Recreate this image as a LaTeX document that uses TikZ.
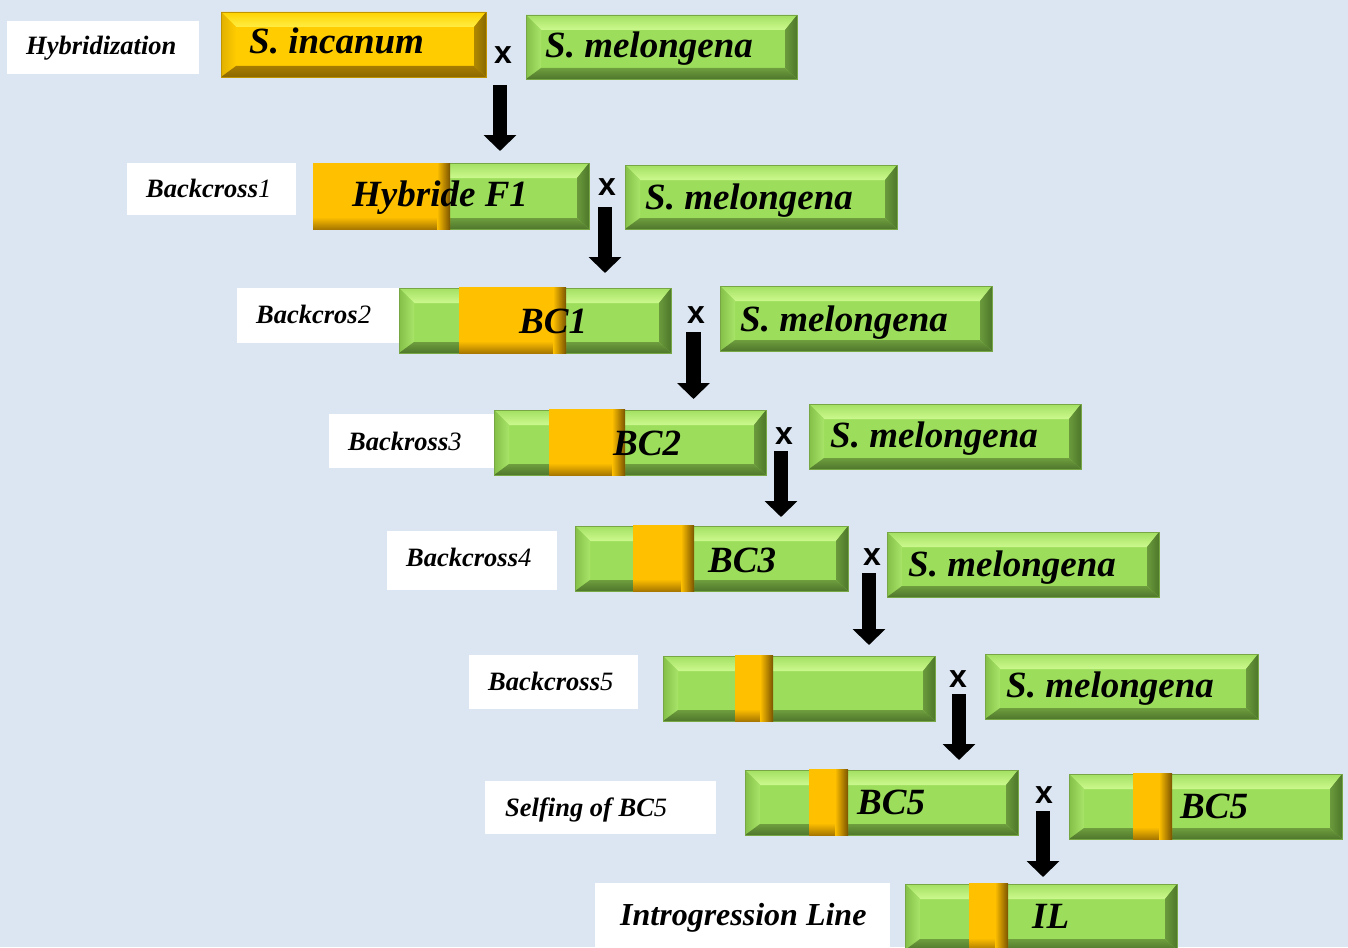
\documentclass[tikz,border=0pt]{standalone}
\usepackage{fontspec}
\setmainfont{Liberation Serif}
\newfontfamily\xfont{Liberation Sans}
\usetikzlibrary{arrows.meta,fit}
\definecolor{bg}{HTML}{DCE6F2}
% green scheme
\definecolor{gface}{HTML}{9CDE5C}
\definecolor{gt1}{HTML}{A2E062}
\definecolor{gt2}{HTML}{CDF98E}
\definecolor{gl1}{HTML}{84C048}
\definecolor{gl2}{HTML}{A8E468}
\definecolor{gr1}{HTML}{6A9A3C}
\definecolor{gr2}{HTML}{4E782B}
\definecolor{gb1}{HTML}{6E9E3E}
\definecolor{gb2}{HTML}{50772C}
\definecolor{gedge}{HTML}{76A744}
% gold scheme
\definecolor{yface}{HTML}{FFCC00}
\definecolor{yt1}{HTML}{FFD300}
\definecolor{yt2}{HTML}{FFEE44}
\definecolor{yl1}{HTML}{E0B000}
\definecolor{yl2}{HTML}{FFCC00}
\definecolor{yr1}{HTML}{B08800}
\definecolor{yr2}{HTML}{8A6A00}
\definecolor{yb1}{HTML}{A67C00}
\definecolor{yb2}{HTML}{8C6800}
\definecolor{yedge}{HTML}{C09400}
% orange segments
\definecolor{oface}{HTML}{FFC000}
\definecolor{odark}{HTML}{7A5400}
\definecolor{obot}{HTML}{A87800}

\newcommand\bevbar[6]{% name, scheme, x1,y1,x2,y2
  \fill[#2face] (#3,#4) rectangle (#5,#6);
  \shade[top color=#2t1, bottom color=#2t2] (#3,#4) -- (#5,#4) -- ({#5-12},{#4+15}) -- ({#3+15},{#4+15}) -- cycle;
  \shade[left color=#2l1, right color=#2l2] (#3,#4) -- ({#3+15},{#4+15}) -- ({#3+15},{#6-11}) -- (#3,#6) -- cycle;
  \shade[left color=#2r1, right color=#2r2] (#5,#4) -- (#5,#6) -- ({#5-12},{#6-11}) -- ({#5-12},{#4+15}) -- cycle;
  \shade[top color=#2b1, bottom color=#2b2] (#3,#6) -- (#5,#6) -- ({#5-12},{#6-11}) -- ({#3+15},{#6-11}) -- cycle;
  \draw[#2edge, line width=0.8pt] (#3,#4) rectangle (#5,#6);
  \coordinate (#1-nw) at (#3,#4);
  \coordinate (#1-se) at (#5,#6);
  \node[inner sep=0, fit=(#1-nw)(#1-se)] (#1) {};
}
\newcommand\oseg[4]{% x1,y1,x2,y2
  \fill[oface] (#1,#2) rectangle (#3,#4);
  \shade[top color=oface, bottom color=obot] (#1,{#4-12}) rectangle (#3,#4);
  \shade[left color=oface, middle color=oface!70!odark, right color=odark] ({#3-13},#2) rectangle (#3,#4);
}

\tikzset{
  bartxt/.style={font=\fontsize{37}{40}\selectfont\bfseries\itshape, inner sep=0, anchor=base west},
  labtxt/.style={font=\fontsize{26.5}{30}\selectfont\bfseries\itshape, inner sep=0, anchor=base west},
  labbox/.style={fill=white, inner sep=0, anchor=north west},
  crossx/.style={font=\xfont\fontsize{32}{34}\selectfont\bfseries, inner sep=0},
  downarr/.style={line width=14.5pt, -{Triangle[width=32pt,length=16pt]}},
}

\begin{document}
\begin{tikzpicture}[x=1pt,y=-1pt]
\clip (0,0) rectangle (1348,947);
\fill[bg] (0,0) rectangle (1348,947);

% ---------- row 0
\node[labbox, minimum width=192pt, minimum height=53pt] (lb0) at (7,21) {};
\node[labtxt] (lt0) at (26,55) {Hybridization};
\bevbar{inc}{y}{221}{12}{486}{77}
\node[bartxt] (tinc) at (249,54) {S. incanum};
\node[crossx] (x0) at (503,55) {x};
\bevbar{m0}{g}{526}{15}{797}{79}
\node[bartxt] (tm0) at (545,58) {S. melongena};
\coordinate (a0s) at (500,85);
\coordinate (a0e) at (500,151);
\draw[downarr] (a0s) -- (a0e);

% ---------- row 1
\node[labbox, minimum width=169pt, minimum height=52pt] (lb1) at (127,163) {};
\node[labtxt] (lt1) at (146,197) {Backcross{\mdseries 1}};
\bevbar{f1}{g}{313}{163}{589}{229}
\oseg{313}{163}{450}{229}
\node[bartxt] (tf1) at (352,206) {Hybride F1};
\node[crossx] (x1) at (607,187) {x};
\bevbar{m1}{g}{625}{165}{897}{229}
\node[bartxt] (tm1) at (645,209) {S. melongena};
\coordinate (a1s) at (605,207);
\coordinate (a1e) at (605,273);
\draw[downarr] (a1s) -- (a1e);

% ---------- row 2
\node[labbox, minimum width=169pt, minimum height=55pt] (lb2) at (237,288) {};
\node[labtxt] (lt2) at (256,323) {Backcros{\mdseries 2}};
\bevbar{bc1}{g}{399}{288}{671}{353}
\oseg{459}{287}{566}{353}
\node[bartxt] (tbc1) at (519,333) {BC1};
\node[crossx] (x2) at (696,315) {x};
\bevbar{m2}{g}{720}{286}{992}{351}
\node[bartxt] (tm2) at (740,331) {S. melongena};
\coordinate (a2s) at (693.5,332);
\coordinate (a2e) at (693.5,399);
\draw[downarr] (a2s) -- (a2e);

% ---------- row 3
\node[labbox, minimum width=170pt, minimum height=54pt] (lb3) at (329,414) {};
\node[labtxt] (lt3) at (348,450) {Backross{\mdseries 3}};
\bevbar{bc2}{g}{494}{410}{766}{475}
\oseg{549}{409}{625}{475}
\node[bartxt] (tbc2) at (613,455) {BC2};
\node[crossx] (x3) at (784,436) {x};
\bevbar{m3}{g}{809}{404}{1081}{469}
\node[bartxt] (tm3) at (830,447) {S. melongena};
\coordinate (a3s) at (781,451);
\coordinate (a3e) at (781,517);
\draw[downarr] (a3s) -- (a3e);

% ---------- row 4
\node[labbox, minimum width=170pt, minimum height=59pt] (lb4) at (387,531) {};
\node[labtxt] (lt4) at (406,566) {Backcross{\mdseries 4}};
\bevbar{bc3}{g}{575}{526}{848}{591}
\oseg{633}{525}{694}{591}
\node[bartxt] (tbc3) at (708,572) {BC3};
\node[crossx] (x4) at (872,557) {x};
\bevbar{m4}{g}{887}{532}{1159}{597}
\node[bartxt] (tm4) at (908,576) {S. melongena};
\coordinate (a4s) at (869,573);
\coordinate (a4e) at (869,645);
\draw[downarr] (a4s) -- (a4e);

% ---------- row 5
\node[labbox, minimum width=169pt, minimum height=54pt] (lb5) at (469,655) {};
\node[labtxt] (lt5) at (488,690) {Backcross{\mdseries 5}};
\bevbar{bc4}{g}{663}{656}{935}{721}
\oseg{735}{655}{773}{721}
\node[crossx] (x5) at (958,679) {x};
\bevbar{m5}{g}{985}{654}{1258}{719}
\node[bartxt] (tm5) at (1006,697) {S. melongena};
\coordinate (a5s) at (959,694);
\coordinate (a5e) at (959,760);
\draw[downarr] (a5s) -- (a5e);

% ---------- row 6
\node[labbox, minimum width=231pt, minimum height=53pt] (lb6) at (485,781) {};
\node[labtxt] (lt6) at (505,816) {Selfing of BC{\mdseries 5}};
\bevbar{bc5}{g}{745}{770}{1018}{835}
\oseg{809}{769}{848}{835}
\node[bartxt] (tbc5) at (857,814) {BC5};
\node[crossx] (x6) at (1044,795) {x};
\bevbar{bc5b}{g}{1069}{774}{1342}{839}
\oseg{1133}{773}{1172}{839}
\node[bartxt] (tbc5b) at (1180,818) {BC5};
\coordinate (a6s) at (1043,811);
\coordinate (a6e) at (1043,877);
\draw[downarr] (a6s) -- (a6e);

% ---------- row 7
\node[labbox, minimum width=295pt, minimum height=70pt] (lb7) at (595,883) {};
\node[labtxt, font=\fontsize{32}{36}\selectfont\bfseries\itshape] (lt7) at (620,925) {Introgression Line};
\bevbar{il}{g}{905}{884}{1177}{950}
\oseg{969}{883}{1008}{950}
\node[bartxt] (til) at (1032,928) {IL};
\end{tikzpicture}
\end{document}
